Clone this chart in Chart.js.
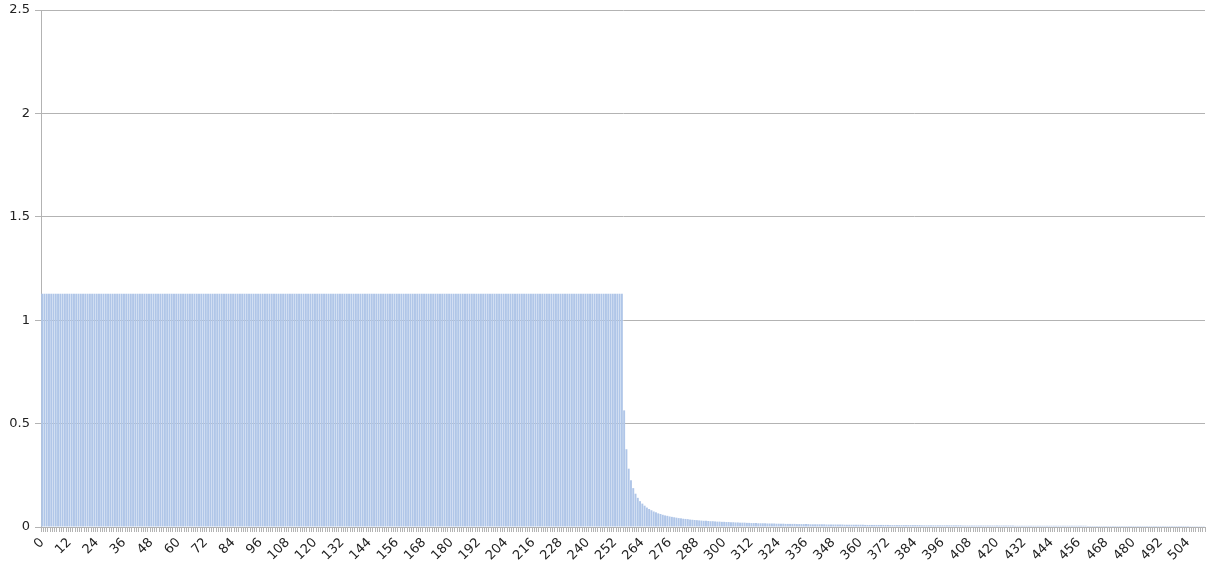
<!DOCTYPE html>
<html>
<head>
<meta charset="utf-8">
<script src="https://cdn.jsdelivr.net/npm/chart.js@4/dist/chart.umd.min.js"></script>
<style>
  html, body { margin: 0; padding: 0; background: #ffffff; }
  #wrap { width: 1206px; height: 567px; position: relative; }
</style>
</head>
<body>
<div id="wrap"><canvas id="c" width="1206" height="567"></canvas></div>
<script>
// Flat passband, bins 0..255
const passband = [
  1.128,1.128,1.128,1.128,1.128,1.128,1.128,1.128,1.128,1.128,1.128,1.128,1.128,1.128,1.128,1.128,
  1.128,1.128,1.128,1.128,1.128,1.128,1.128,1.128,1.128,1.128,1.128,1.128,1.128,1.128,1.128,1.128,
  1.128,1.128,1.128,1.128,1.128,1.128,1.128,1.128,1.128,1.128,1.128,1.128,1.128,1.128,1.128,1.128,
  1.128,1.128,1.128,1.128,1.128,1.128,1.128,1.128,1.128,1.128,1.128,1.128,1.128,1.128,1.128,1.128,
  1.128,1.128,1.128,1.128,1.128,1.128,1.128,1.128,1.128,1.128,1.128,1.128,1.128,1.128,1.128,1.128,
  1.128,1.128,1.128,1.128,1.128,1.128,1.128,1.128,1.128,1.128,1.128,1.128,1.128,1.128,1.128,1.128,
  1.128,1.128,1.128,1.128,1.128,1.128,1.128,1.128,1.128,1.128,1.128,1.128,1.128,1.128,1.128,1.128,
  1.128,1.128,1.128,1.128,1.128,1.128,1.128,1.128,1.128,1.128,1.128,1.128,1.128,1.128,1.128,1.128,
  1.128,1.128,1.128,1.128,1.128,1.128,1.128,1.128,1.128,1.128,1.128,1.128,1.128,1.128,1.128,1.128,
  1.128,1.128,1.128,1.128,1.128,1.128,1.128,1.128,1.128,1.128,1.128,1.128,1.128,1.128,1.128,1.128,
  1.128,1.128,1.128,1.128,1.128,1.128,1.128,1.128,1.128,1.128,1.128,1.128,1.128,1.128,1.128,1.128,
  1.128,1.128,1.128,1.128,1.128,1.128,1.128,1.128,1.128,1.128,1.128,1.128,1.128,1.128,1.128,1.128,
  1.128,1.128,1.128,1.128,1.128,1.128,1.128,1.128,1.128,1.128,1.128,1.128,1.128,1.128,1.128,1.128,
  1.128,1.128,1.128,1.128,1.128,1.128,1.128,1.128,1.128,1.128,1.128,1.128,1.128,1.128,1.128,1.128,
  1.128,1.128,1.128,1.128,1.128,1.128,1.128,1.128,1.128,1.128,1.128,1.128,1.128,1.128,1.128,1.128,
  1.128,1.128,1.128,1.128,1.128,1.128,1.128,1.128,1.128,1.128,1.128,1.128,1.128,1.128,1.128,1.128
];

// Steep roll-off, bins 256..355
const rolloff = [
  0.564,0.376,0.282,0.226,0.188,0.161,0.141,0.125,0.113,0.103,
  0.094,0.087,0.081,0.075,0.071,0.066,0.063,0.059,0.056,0.054,
  0.051,0.049,0.047,0.045,0.043,0.042,0.040,0.039,0.038,0.036,
  0.035,0.034,0.033,0.032,0.031,0.030,0.030,0.029,0.028,0.028,
  0.027,0.026,0.026,0.025,0.025,0.024,0.024,0.023,0.023,0.022,
  0.022,0.021,0.021,0.021,0.020,0.020,0.019,0.019,0.019,0.018,
  0.018,0.018,0.018,0.017,0.017,0.017,0.017,0.016,0.016,0.016,
  0.016,0.015,0.015,0.015,0.015,0.015,0.014,0.014,0.014,0.014,
  0.014,0.014,0.013,0.013,0.013,0.013,0.013,0.013,0.013,0.012,
  0.012,0.012,0.012,0.012,0.012,0.012,0.012,0.011,0.011,0.011
];

// Long low tail, bins 356..511
const tail = [
  0.011,0.011,0.011,0.011,0.011,0.011,
  0.010,0.010,0.010,0.010,0.010,0.010,0.010,0.010,0.010,0.010,0.010,
  0.009,0.009,0.009,0.009,0.009,0.009,0.009,0.009,0.009,0.009,0.009,0.009,0.009,0.009,
  0.008,0.008,0.008,0.008,0.008,0.008,0.008,0.008,0.008,0.008,0.008,0.008,0.008,0.008,0.008,0.008,0.008,0.008,
  0.007,0.007,0.007,0.007,0.007,0.007,0.007,0.007,0.007,0.007,0.007,0.007,
  0.007,0.007,0.007,0.007,0.007,0.007,0.007,0.007,0.007,0.007,0.007,
  0.006,0.006,0.006,0.006,0.006,0.006,0.006,0.006,0.006,0.006,0.006,0.006,0.006,0.006,0.006,0.006,
  0.006,0.006,0.006,0.006,0.006,0.006,0.006,0.006,0.006,0.006,0.006,0.006,0.006,0.006,0.006,0.006,
  0.005,0.005,0.005,0.005,0.005,0.005,0.005,0.005,0.005,0.005,0.005,0.005,0.005,0.005,0.005,
  0.005,0.005,0.005,0.005,0.005,0.005,0.005,0.005,0.005,0.005,0.005,0.005,0.005,0.005,0.005,
  0.005,0.005,0.005,0.005,0.005,0.005,0.005,0.005,0.005,0.005,0.005,0.005,0.005,0.005,0.005,
  0.004,0.004,0.004,0.004,0.004,0.004,0.004
];

const values = passband.concat(rolloff, tail);
const categories = values.map((v, i) => String(i));
const yTicks = [0, 0.5, 1, 1.5, 2, 2.5];
const labelEvery = 12;

const axisGray = '#b3b3b3';
const textColor = '#222222';
const tickFont = { family: 'DejaVu Sans', size: 13 };

new Chart(document.getElementById('c'), {
  type: 'bar',
  data: {
    labels: categories,
    datasets: [{
      data: values,
      backgroundColor: '#b0c6e8',
      borderWidth: 0,
      barPercentage: 0.86,
      categoryPercentage: 1.0
    }]
  },
  options: {
    responsive: false,
    animation: false,
    layout: { padding: { top: 10, right: 1, left: 0, bottom: 0 } },
    plugins: { legend: { display: false }, tooltip: { enabled: false } },
    scales: {
      x: {
        grid: { drawOnChartArea: false, drawTicks: true, tickLength: 5, color: axisGray, lineWidth: 1 },
        border: { display: true, color: axisGray },
        ticks: {
          autoSkip: false,
          minRotation: 45,
          maxRotation: 45,
          padding: 3,
          color: textColor,
          font: tickFont,
          callback: function (val, idx) { return idx % labelEvery === 0 ? categories[idx] : ''; }
        },
        afterFit: function (s) { s.height = 40; s.paddingLeft = 0; s.paddingRight = 0; }
      },
      y: {
        min: yTicks[0],
        max: yTicks[yTicks.length - 1],
        afterBuildTicks: function (s) { s.ticks = yTicks.map(v => ({ value: v })); },
        grid: { color: axisGray, lineWidth: 1, drawTicks: true, tickLength: 6 },
        border: { display: true, color: axisGray },
        ticks: {
          padding: 5,
          color: textColor,
          font: tickFont,
          callback: function (v) { return String(v); }
        },
        afterFit: function (s) { s.width = 41; s.paddingTop = 0; s.paddingBottom = 0; }
      }
    }
  }
});
</script>
</body>
</html>
